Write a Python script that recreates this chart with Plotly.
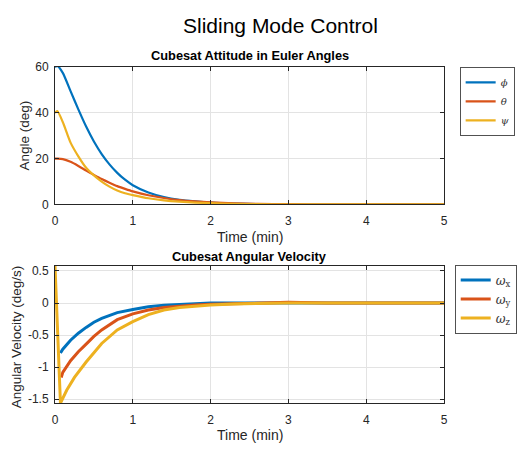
import plotly.graph_objects as go

# ---------------- data ----------------
t_att = [0, 0.03, 0.1, 0.2, 0.3, 0.4, 0.5, 0.6, 0.7, 0.8, 0.9, 1.0, 1.2, 1.4,
         1.6, 1.8, 2.0, 2.3, 2.6, 3.0, 3.5, 4.0, 4.5, 5.0]
phi = [60, 60.5, 57.5, 49.5, 41.5, 34, 27.5, 22, 17.5, 13.8, 10.8, 8.4, 5.2, 3.2,
       2.0, 1.3, 0.8, 0.4, 0.15, 0.0, -0.05, -0.02, 0.0, 0.0]
theta = [20, 20, 19.8, 18.6, 16.8, 14.8, 12.9, 11.1, 9.5, 8.0, 6.8, 5.7, 4.0, 2.8,
         1.9, 1.3, 0.9, 0.5, 0.25, 0.1, 0.05, 0.02, 0.0, 0.0]
psi = [40, 40.8, 36, 27, 21, 16, 12.7, 10, 7.8, 6.1, 4.9, 4.1, 2.7, 1.8,
       1.2, 0.8, 0.55, 0.3, 0.1, 0.0, 0.0, 0.0, 0.0, 0.0]

t_wx = [0.07, 0.1, 0.2, 0.3, 0.4, 0.5, 0.6, 0.7, 0.8, 1.0, 1.2, 1.4, 1.6, 1.8,
        2.0, 2.5, 3.0, 3.5, 4.0, 4.5, 5.0]
wx = [-0.78, -0.72, -0.58, -0.47, -0.38, -0.30, -0.24, -0.19, -0.15, -0.10, -0.06,
      -0.035, -0.02, -0.01, 0.0, 0.0, 0.0, 0.0, 0.0, 0.0, 0.0]
t_wy = [0.08, 0.1, 0.2, 0.3, 0.4, 0.5, 0.6, 0.7, 0.8, 1.0, 1.2, 1.4, 1.6, 1.8,
        2.0, 2.3, 2.6, 3.0, 3.5, 4.0, 4.5, 5.0]
wy = [-1.16, -1.08, -0.90, -0.76, -0.64, -0.52, -0.42, -0.34, -0.26, -0.17, -0.11,
      -0.07, -0.045, -0.03, -0.02, -0.01, 0.0, 0.01, 0.0, 0.0, 0.0, 0.0]
t_wz = [0, 0.07, 0.15, 0.25, 0.4, 0.6, 0.8, 1.0, 1.2, 1.4, 1.6, 1.8, 2.0, 2.3,
        2.6, 3.0, 3.5, 4.0, 4.5, 5.0]
wz = [0.58, -1.56, -1.36, -1.16, -0.92, -0.63, -0.42, -0.29, -0.18, -0.11, -0.07,
      -0.045, -0.03, -0.015, -0.005, 0.0, 0.0, 0.0, 0.0, 0.0]

x_ticks = [0, 1, 2, 3, 4, 5]
x_tick_labels = ["0", "1", "2", "3", "4", "5"]
att_ticks = [0, 20, 40, 60]
att_tick_labels = ["0", "20", "40", "60"]
rate_ticks = [-1.5, -1, -0.5, 0, 0.5]
rate_tick_labels = ["-1.5", "-1", "-0.5", "0", "0.5"]

att_names = ["<i>ϕ</i>", "<i>θ</i>", "<i>ψ</i>"]
rate_names = ["<i>ω</i><sub>x</sub>", "<i>ω</i><sub>y</sub>", "<i>ω</i><sub>z</sub>"]
colors = ["#0072BD", "#D95319", "#EDB120"]

# ---------------- figure ----------------
W, H = 527, 455
fig = go.Figure()

for name, y, c in zip(att_names, [phi, theta, psi], colors):
    fig.add_trace(go.Scatter(x=t_att, y=y, mode="lines", name=name,
                             line=dict(color=c, width=2.2, shape="spline", smoothing=0.6),
                             xaxis="x", yaxis="y", legend="legend"))
for name, tx, y, c in zip(rate_names, [t_wx, t_wy, t_wz], [wx, wy, wz], colors):
    fig.add_trace(go.Scatter(x=tx, y=y, mode="lines", name=name,
                             line=dict(color=c, width=3),
                             xaxis="x2", yaxis="y2", legend="legend2"))

font = "Liberation Sans, Arial, sans-serif"
axcol = "#262626"
common = dict(showline=True, linecolor=axcol, linewidth=1, mirror="ticks",
              ticks="inside", ticklen=4, tickcolor=axcol, showgrid=True,
              gridcolor="#e3e3e3", gridwidth=1, zeroline=False,
              tickfont=dict(family=font, size=12, color=axcol))

xd = [52.7 / W, 447 / W]
fig.update_layout(
    width=W, height=H, margin=dict(l=0, r=0, t=0, b=0),
    paper_bgcolor="white", plot_bgcolor="white", showlegend=True,
    xaxis=dict(domain=xd, range=[0, 5], tickvals=x_ticks, ticktext=x_tick_labels,
               anchor="y", ticklabelstandoff=5, **common),
    yaxis=dict(domain=[1 - 203.7 / H, 1 - 62 / H], range=[0, 60],
               tickvals=att_ticks, ticktext=att_tick_labels, anchor="x",
               ticklabelstandoff=3, **common),
    xaxis2=dict(domain=xd, range=[0, 5], tickvals=x_ticks, ticktext=x_tick_labels,
                anchor="y2", ticklabelstandoff=5, **common),
    yaxis2=dict(domain=[1 - 408.7 / H, 1 - 267 / H], range=[-1.56, 0.58],
                tickvals=rate_ticks, ticktext=rate_tick_labels, anchor="x2",
                ticklabelstandoff=3, **common),
    legend=dict(x=463 / W, y=1 - 62 / H, xanchor="left", yanchor="top",
                bgcolor="white", bordercolor="#262626", borderwidth=0.8,
                font=dict(family="DejaVu Serif, serif", size=10, color="#333333"),
                tracegroupgap=0, itemwidth=30),
    legend2=dict(x=458 / W, y=1 - 266 / H, xanchor="left", yanchor="top",
                 bgcolor="white", bordercolor="#262626", borderwidth=0.8,
                 font=dict(family="DejaVu Serif, serif", size=12, color="#333333"),
                 tracegroupgap=0, itemwidth=30),
)

ann = []
ann.append(dict(text="Sliding Mode Control", x=281 / W, y=1 - 19 / H, xref="paper",
                yref="paper", showarrow=False, xanchor="center", yanchor="middle",
                font=dict(family=font, size=21, color="black")))
ann.append(dict(text="<b>Cubesat Attitude in Euler Angles</b>", x=250 / W, y=1 - 50 / H,
                xref="paper", yref="paper", showarrow=False, xanchor="center",
                yanchor="middle", font=dict(family=font, size=12.8, color="black")))
ann.append(dict(text="<b>Cubesat Angular Velocity</b>", x=250 / W, y=1 - 257 / H,
                xref="paper", yref="paper", showarrow=False, xanchor="center",
                yanchor="middle", font=dict(family=font, size=12.8, color="black")))
ann.append(dict(text="Time (min)", x=250 / W, y=1 - 237 / H, xref="paper", yref="paper",
                showarrow=False, xanchor="center", yanchor="middle",
                font=dict(family=font, size=14, color=axcol)))
ann.append(dict(text="Time (min)", x=250 / W, y=1 - 442 / H, xref="paper", yref="paper",
                showarrow=False, xanchor="center", yanchor="middle",
                font=dict(family=font, size=14, color=axcol)))
ann.append(dict(text="Angle (deg)", x=22 / W, y=1 - 133 / H, xref="paper", yref="paper",
                showarrow=False, xanchor="center", yanchor="middle", textangle=-90,
                font=dict(family=font, size=13.5, color=axcol)))
ann.append(dict(text="Angular Velocity (deg/s)", x=14 / W, y=1 - 340 / H, xref="paper",
                yref="paper", showarrow=False, xanchor="center", yanchor="middle",
                textangle=-90, font=dict(family=font, size=13.5, color=axcol)))
fig.update_layout(annotations=ann)

fig.write_html("out.html", config={"displayModeBar": False},
               post_script="document.body.style.margin='0';document.body.style.overflow='hidden';")
